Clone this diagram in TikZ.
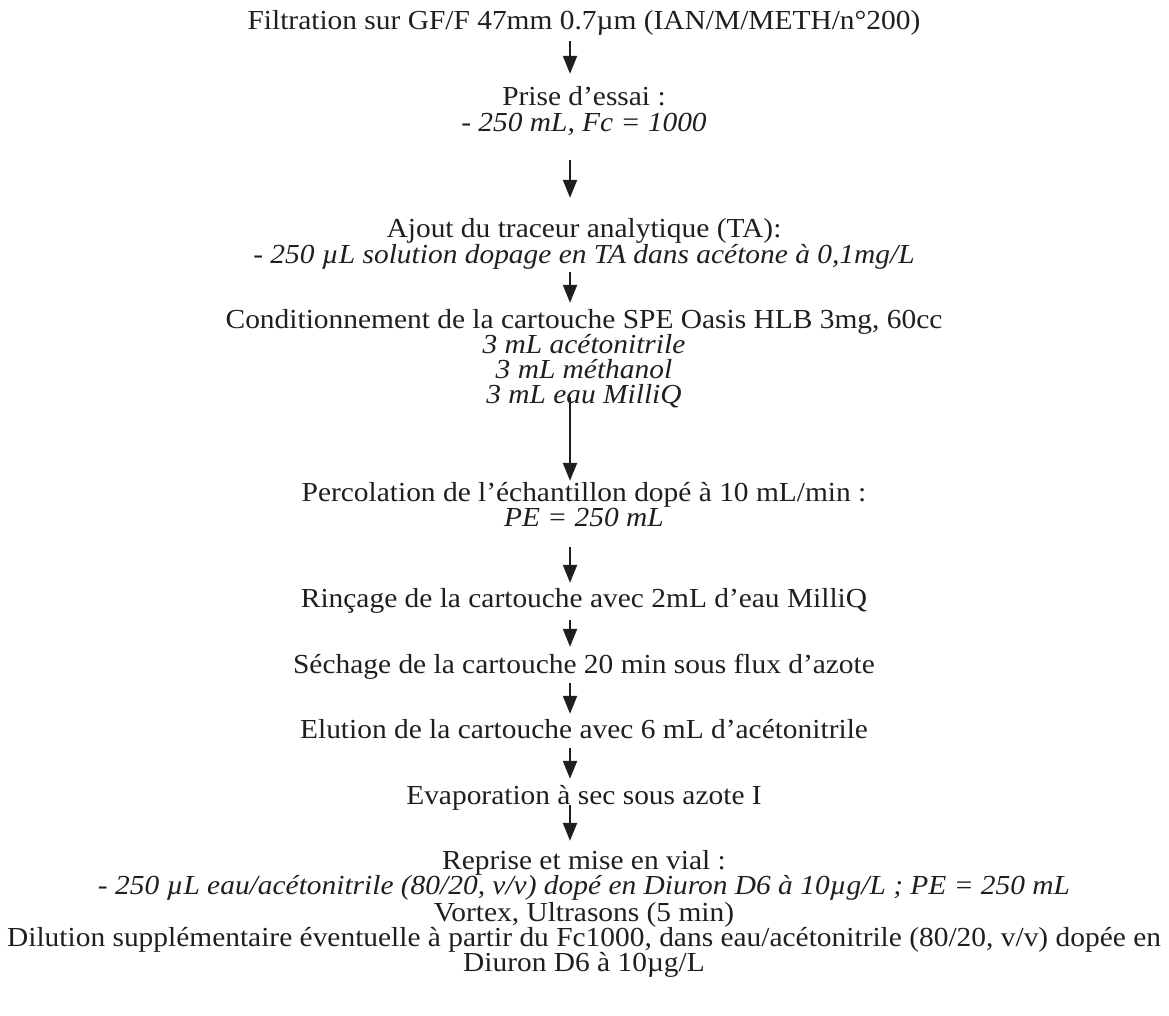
\documentclass[tikz,border=0pt]{standalone}
\usepackage{fontspec}
\setmainfont{Liberation Serif}[FakeStretch=1.07]
\usetikzlibrary{arrows.meta}
\begin{document}
\begin{tikzpicture}[x=1pt,y=-1pt,
  ln/.style={anchor=base,inner sep=0pt,text height=17pt,text depth=6pt,text=black!88,font=\fontsize{27.5}{27.5}\selectfont},
  arr/.style={line width=2.1pt,draw=black!88,-{Triangle[width=14pt,length=18pt]}},
  gaps/.style 2 args={shorten <=#1,shorten >=#2}]
\useasboundingbox (0,0) rectangle (1169,1015);
\coordinate (ax) at (570,0);
\def\cx{584}
\node[ln] (l1) at (\cx,29) {Filtration sur GF/F 47mm 0.7µm (IAN/M/METH/n°200)};
\node[ln] (l2) at (\cx,105) {Prise d’essai :};
\node[ln] (l3) at (\cx,131) {\itshape - 250 mL, Fc = 1000};
\node[ln] (l4) at (\cx,237) {Ajout du traceur analytique (TA):};
\node[ln] (l5) at (\cx,263) {\itshape - 250 µL solution dopage en TA dans acétone à 0,1mg/L};
\node[ln] (l6) at (\cx,328) {Conditionnement de la cartouche SPE Oasis HLB 3mg, 60cc};
\node[ln] (l7) at (\cx,353) {\itshape 3 mL acétonitrile};
\node[ln] (l8) at (\cx,378) {\itshape 3 mL méthanol};
\node[ln] (l9) at (\cx,403) {\itshape 3 mL eau MilliQ};
\node[ln] (l10) at (\cx,501) {Percolation de l’échantillon dopé à 10 mL/min :};
\node[ln] (l11) at (\cx,526) {\itshape PE = 250 mL};
\node[ln] (l12) at (\cx,607) {Rinçage de la cartouche avec 2mL d’eau MilliQ};
\node[ln] (l13) at (\cx,673) {Séchage de la cartouche 20 min sous flux d’azote};
\node[ln] (l14) at (\cx,738) {Elution de la cartouche avec 6 mL d’acétonitrile};
\node[ln] (l15) at (\cx,804) {Evaporation à sec sous azote I};
\node[ln] (l16) at (\cx,869) {Reprise et mise en vial :};
\node[ln] (l17) at (\cx,894) {\itshape - 250 µL eau/acétonitrile (80/20, v/v) dopé en Diuron D6 à 10µg/L ; PE = 250 mL};
\node[ln] (l18) at (\cx,921) {Vortex, Ultrasons (5 min)};
\node[ln] (l19) at (\cx,946) {Dilution supplémentaire éventuelle à partir du Fc1000, dans eau/acétonitrile (80/20, v/v) dopée en};
\node[ln] (l20) at (\cx,971) {Diuron D6 à 10µg/L};
% arrows: south = baseline+6, north = baseline-17
\draw[arr,gaps={6pt}{14pt}] (l1.south -| ax) -- (l2.north -| ax);
\draw[arr,gaps={23pt}{22pt}] (l3.south -| ax) -- (l4.north -| ax);
\draw[arr,gaps={3pt}{8pt}] (l5.south -| ax) -- (l6.north -| ax);
\draw[arr,gaps={-12pt}{3pt}] (l9.south -| ax) -- (l10.north -| ax);
\draw[arr,gaps={15pt}{7pt}] (l11.south -| ax) -- (l12.north -| ax);
\draw[arr,gaps={7pt}{9pt}] (l12.south -| ax) -- (l13.north -| ax);
\draw[arr,gaps={4pt}{7pt}] (l13.south -| ax) -- (l14.north -| ax);
\draw[arr,gaps={4pt}{8pt}] (l14.south -| ax) -- (l15.north -| ax);
\draw[arr,gaps={-5pt}{11pt}] (l15.south -| ax) -- (l16.north -| ax);
\end{tikzpicture}
\end{document}
